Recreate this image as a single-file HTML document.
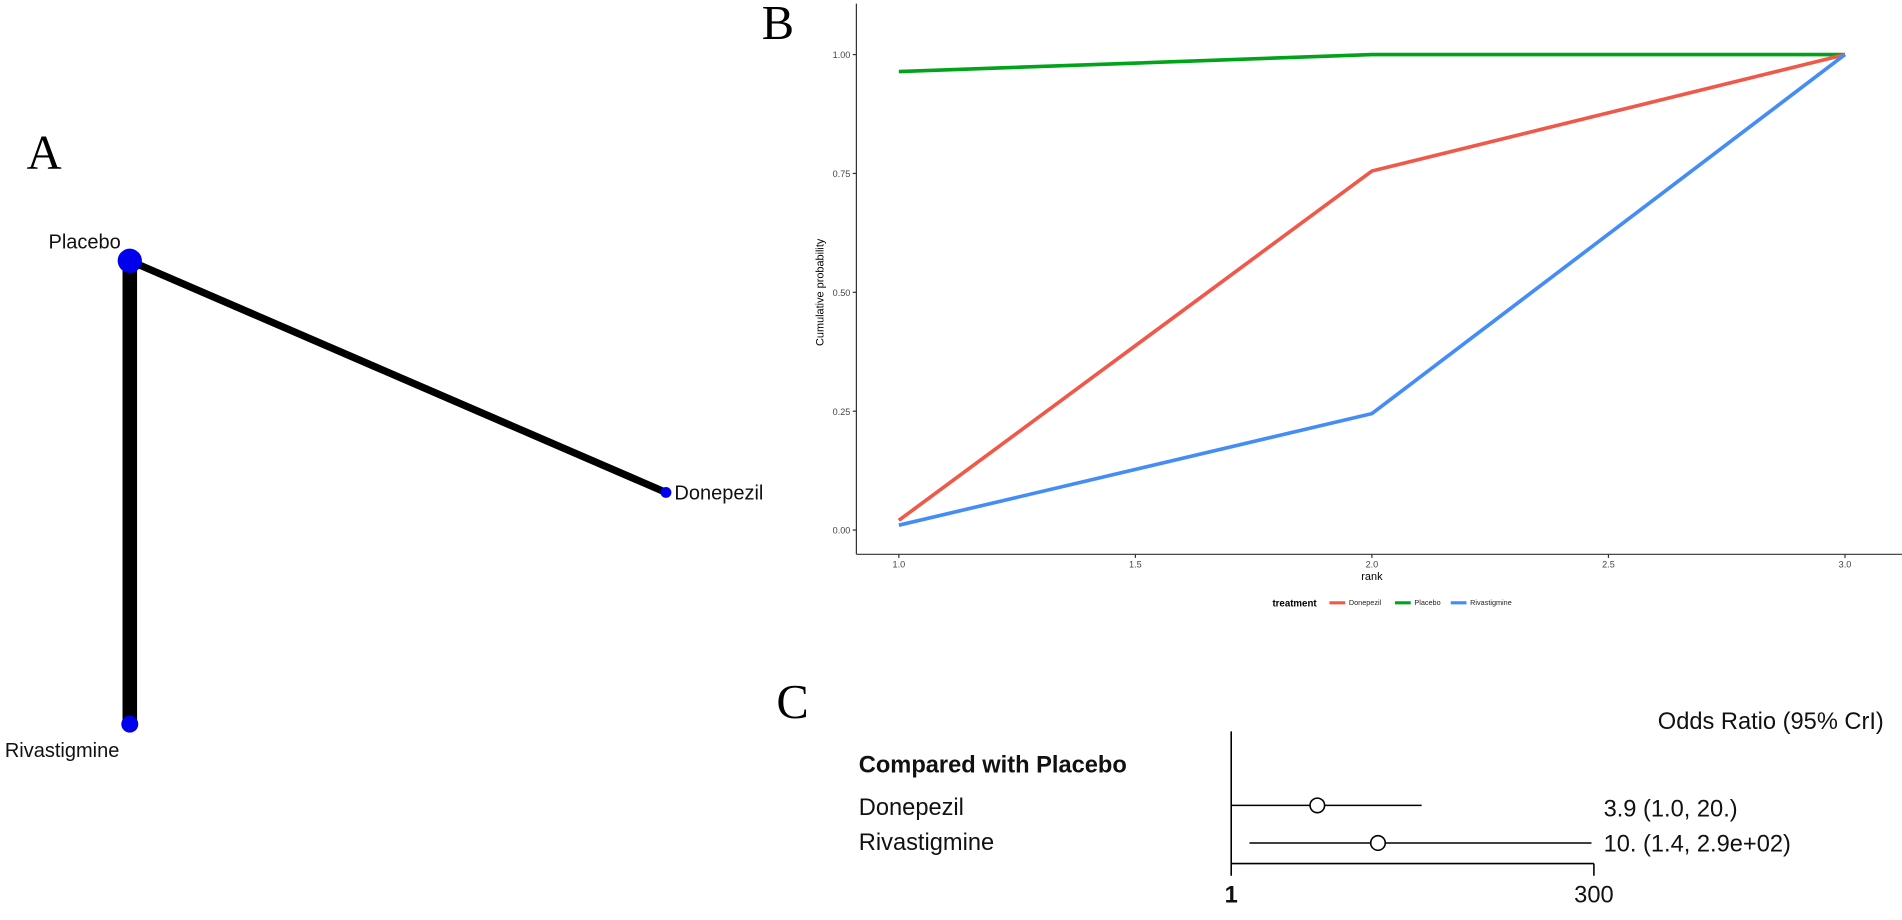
<!DOCTYPE html>
<html><head><meta charset="utf-8"><style>html,body{margin:0;padding:0;background:#fff;}svg{display:block}</style></head>
<body>
<svg width="1902" height="920" viewBox="0 0 1568 758.5" preserveAspectRatio="none" xmlns="http://www.w3.org/2000/svg">
<rect width="1568" height="758.5" fill="#fff"/>
<text x="22" y="139" font-family="Liberation Serif, serif" font-size="40">A</text>
<line x1="107" y1="215" x2="107" y2="597" stroke="#000" stroke-width="12"/>
<line x1="107" y1="215" x2="549" y2="406" stroke="#000" stroke-width="6"/>
<circle cx="107" cy="215" r="10" fill="#0000ee"/>
<circle cx="107" cy="597" r="7" fill="#0000ee"/>
<circle cx="549" cy="406" r="4.5" fill="#0000ee"/>
<g font-family="Liberation Sans, sans-serif" font-size="16.5" fill="#111">
<text x="40" y="205">Placebo</text>
<text x="556" y="412">Donepezil</text>
<text x="4" y="624">Rivastigmine</text>
</g>
<text x="628" y="32" font-family="Liberation Serif, serif" font-size="40">B</text>
<line x1="706" y1="3" x2="706" y2="457" stroke="#333" stroke-width="1"/>
<line x1="706" y1="457" x2="1568" y2="457" stroke="#333" stroke-width="1"/>
<g stroke="#333" stroke-width="1">
<line x1="703" y1="45" x2="706" y2="45"/><line x1="703" y1="143" x2="706" y2="143"/><line x1="703" y1="241" x2="706" y2="241"/><line x1="703" y1="339" x2="706" y2="339"/><line x1="703" y1="437" x2="706" y2="437"/>
<line x1="741" y1="457" x2="741" y2="460"/><line x1="936" y1="457" x2="936" y2="460"/><line x1="1131" y1="457" x2="1131" y2="460"/><line x1="1326" y1="457" x2="1326" y2="460"/><line x1="1521" y1="457" x2="1521" y2="460"/>
</g>
<g font-family="Liberation Sans, sans-serif" font-size="7.5" fill="#444" text-anchor="end">
<text x="701" y="48">1.00</text><text x="701" y="146">0.75</text><text x="701" y="244">0.50</text><text x="701" y="342">0.25</text><text x="701" y="440">0.00</text>
</g>
<g font-family="Liberation Sans, sans-serif" font-size="7.5" fill="#444" text-anchor="middle">
<text x="741" y="468">1.0</text><text x="936" y="468">1.5</text><text x="1131" y="468">2.0</text><text x="1326" y="468">2.5</text><text x="1521" y="468">3.0</text>
</g>
<text x="1131" y="478" font-family="Liberation Sans, sans-serif" font-size="9" text-anchor="middle">rank</text>
<text transform="translate(679,241) rotate(-90)" font-family="Liberation Sans, sans-serif" font-size="9" text-anchor="middle">Cumulative probability</text>
<polyline points="741,59 1131,45 1521,45" fill="none" stroke="#00a419" stroke-width="3"/>
<polyline points="741,429 1131,141 1521,45" fill="none" stroke="#f0584a" stroke-width="3"/>
<polyline points="741,433 1131,341 1521,45" fill="none" stroke="#448cf6" stroke-width="3"/>
<text x="1049" y="500" font-family="Liberation Sans, sans-serif" font-size="8" font-weight="bold">treatment</text>
<line x1="1096" y1="497" x2="1109" y2="497" stroke="#f0584a" stroke-width="2.5"/>
<line x1="1150" y1="497" x2="1163" y2="497" stroke="#00a419" stroke-width="2.5"/>
<line x1="1196" y1="497" x2="1209" y2="497" stroke="#448cf6" stroke-width="2.5"/>
<g font-family="Liberation Sans, sans-serif" font-size="6" fill="#222">
<text x="1112" y="499">Donepezil</text><text x="1166" y="499">Placebo</text><text x="1212" y="499">Rivastigmine</text>
</g>
<text x="640" y="592" font-family="Liberation Serif, serif" font-size="40">C</text>
<g font-family="Liberation Sans, sans-serif" font-size="19.5" fill="#111">
<text x="1553" y="601" text-anchor="end">Odds Ratio (95% CrI)</text>
<text x="708" y="637" font-weight="bold">Compared with Placebo</text>
<text x="708" y="672">Donepezil</text>
<text x="708" y="701">Rivastigmine</text>
<text x="1322" y="673">3.9 (1.0, 20.)</text>
<text x="1322" y="702">10. (1.4, 2.9e+02)</text>
<text x="1015" y="744" text-anchor="middle" font-weight="bold">1</text>
<text x="1314" y="744" text-anchor="middle">300</text>
</g>
<g stroke="#000" stroke-width="1.3" fill="none">
<line x1="1015" y1="603" x2="1015" y2="722"/>
<line x1="1015" y1="712" x2="1314" y2="712"/>
<line x1="1314" y1="712" x2="1314" y2="722"/>
<line x1="1015" y1="664" x2="1172" y2="664"/>
<line x1="1030" y1="695" x2="1312" y2="695"/>
<circle cx="1086" cy="664" r="6" fill="#fff"/>
<circle cx="1136" cy="695" r="6" fill="#fff"/>
</g>
</svg>
</body></html>
